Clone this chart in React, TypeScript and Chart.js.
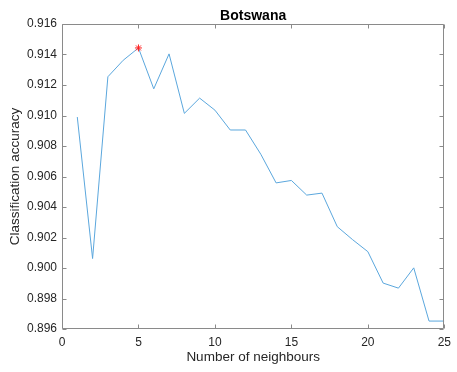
import React, { useEffect, useRef } from "react";
import { Chart, registerables } from "chart.js";

Chart.register(...registerables);

// k values tried and the resulting accuracy
const neighbours: number[] = [1, 2, 3, 4, 5, 6, 7, 8, 9, 10, 11, 12, 13, 14, 15, 16, 17, 18, 19, 20, 21, 22, 23, 24, 25];
const accuracy: number[] = [
  0.9099, 0.90062, 0.91254, 0.91362, 0.91443, 0.91175, 0.91404, 0.91014, 0.91114, 0.91035,
  0.90905, 0.90905, 0.90746, 0.90558, 0.90574, 0.90478, 0.90491, 0.90271, 0.90186, 0.90107,
  0.89901, 0.89868, 0.90001, 0.89652, 0.89652,
];
// best k marker
const bestK: number[] = [5];
const bestAccuracy: number[] = [0.91443];

const chartTitle = "Botswana";

const FONT = '"Liberation Sans", Arial, Helvetica, sans-serif';
const AXIS_COLOR = "#8a8a8a";
const TEXT_COLOR = "#262626";

// Draws the MATLAB-like box around the axes with inward-pointing ticks,
// plus the title centred over the plot area
const boxAxesPlugin = {
  id: "boxAxes",
  afterDatasetsDraw(chart: any) {
    const { ctx, chartArea } = chart;
    const { left, right, top, bottom } = chartArea;
    const xs = chart.scales.x;
    const ys = chart.scales.y;
    const tl = 4;
    ctx.save();
    ctx.strokeStyle = AXIS_COLOR;
    ctx.lineWidth = 1;
    const L = Math.round(left) + 0.5;
    const R = Math.round(right) - 0.5;
    const T = Math.round(top) + 0.5;
    const B = Math.round(bottom) - 0.5;
    ctx.beginPath();
    ctx.rect(L, T, R - L, B - T);
    for (const t of xs.ticks) {
      const px = Math.round(xs.getPixelForValue(t.value)) + 0.5;
      ctx.moveTo(px, B);
      ctx.lineTo(px, B - tl);
      ctx.moveTo(px, T);
      ctx.lineTo(px, T + tl);
    }
    for (const t of ys.ticks) {
      const py = Math.round(ys.getPixelForValue(t.value)) + 0.5;
      ctx.moveTo(L, py);
      ctx.lineTo(L + tl, py);
      ctx.moveTo(R, py);
      ctx.lineTo(R - tl, py);
    }
    ctx.stroke();

    ctx.fillStyle = "#000000";
    ctx.font = `bold 14px ${FONT}`;
    ctx.textAlign = "center";
    ctx.textBaseline = "alphabetic";
    ctx.fillText(chartTitle, (left + right) / 2, 19.5);
    ctx.restore();
  },
};

export default function App() {
  const canvasRef = useRef<HTMLCanvasElement | null>(null);

  useEffect(() => {
    const canvas = canvasRef.current;
    if (!canvas) return;
    const chart = new Chart(canvas, {
      type: "scatter",
      data: {
        datasets: [
          {
            data: bestK.map((k, i) => ({ x: k, y: bestAccuracy[i] })),
            showLine: false,
            pointStyle: "star",
            pointRadius: 3.5,
            pointBorderColor: "#ff2020",
            pointBackgroundColor: "#ff2020",
            pointBorderWidth: 1,
          },
          {
            data: neighbours.map((k, i) => ({ x: k, y: accuracy[i] })),
            showLine: true,
            borderColor: "#5ba7dd",
            borderWidth: 1,
            pointRadius: 0,
            tension: 0,
          },
        ],
      },
      options: {
        responsive: false,
        animation: false,
        events: [],
        layout: { padding: { left: 0, top: 24, right: 8, bottom: 0 } },
        plugins: {
          legend: { display: false },
          tooltip: { enabled: false },
          title: { display: false },
        },
        scales: {
          x: {
            type: "linear",
            min: 0,
            max: 25,
            grid: { display: false, drawTicks: false },
            border: { display: false },
            ticks: {
              stepSize: 5,
              padding: 6,
              color: TEXT_COLOR,
              font: { family: FONT, size: 12 },
              maxRotation: 0,
            },
            title: {
              display: true,
              text: "Number of neighbours",
              color: TEXT_COLOR,
              font: { family: FONT, size: 13.5, lineHeight: 1.2 },
              padding: { top: 0, bottom: 7 },
            },
            afterFit(scale: any) {
              scale.height = 43;
            },
          },
          y: {
            type: "linear",
            min: 0.896,
            max: 0.916,
            grid: { display: false, drawTicks: false },
            border: { display: false },
            ticks: {
              stepSize: 0.002,
              padding: 5,
              color: TEXT_COLOR,
              font: { family: FONT, size: 12 },
              callback: (v: any) => Number(v).toFixed(3),
            },
            title: {
              display: true,
              text: "Classification accuracy",
              color: TEXT_COLOR,
              font: { family: FONT, size: 13.5, lineHeight: 1.2 },
              padding: { top: 7.4, bottom: 0 },
            },
            afterFit(scale: any) {
              scale.width = 62;
            },
          },
        },
      },
      plugins: [boxAxesPlugin],
    });
    return () => chart.destroy();
  }, []);

  return (
    <div style={{ position: "fixed", left: 0, top: 0, width: 457, height: 372, background: "#ffffff" }}>
      <canvas ref={canvasRef} width={457} height={372} style={{ display: "block" }} />
    </div>
  );
}
